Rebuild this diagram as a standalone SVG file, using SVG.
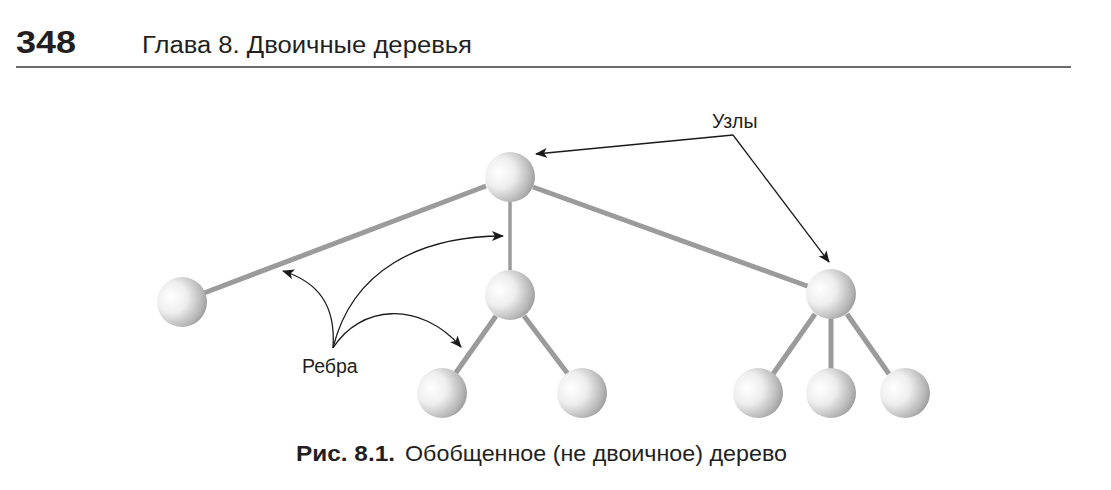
<svg xmlns="http://www.w3.org/2000/svg" width="1111" height="490" viewBox="0 0 1111 490">
<defs>
<radialGradient id="ball" cx="0.3" cy="0.42" r="0.78" fx="0.28" fy="0.4">
<stop offset="0" stop-color="#ffffff"/>
<stop offset="0.4" stop-color="#eeeeee"/>
<stop offset="0.8" stop-color="#b4b4b4"/>
<stop offset="1" stop-color="#8c8c8c"/>
</radialGradient>
<marker id="ah" viewBox="0 0 12 10" refX="11" refY="5" markerWidth="12" markerHeight="10" markerUnits="userSpaceOnUse" orient="auto">
<path d="M0,0 L12,5 L0,10 L3,5 Z" fill="#1a1a1a"/>
</marker>
</defs>
<style>
.hdr{font-family:"Liberation Sans",Arial,sans-serif;fill:#231f20}
.lbl{font-family:"Liberation Sans",Arial,sans-serif;font-size:19.5px;fill:#231f20}
.edge{stroke:#9b9b9b;stroke-width:5;stroke-linecap:butt;fill:none}
.thin{stroke-width:3.5}
.ptr{stroke:#1a1a1a;stroke-width:1.3;fill:none;marker-end:url(#ah)}
.node{fill:url(#ball)}
</style>
<rect width="1111" height="490" fill="#ffffff"/>
<g id="header">
<text class="hdr" x="16" y="53" font-size="31" font-weight="bold" textLength="60" lengthAdjust="spacingAndGlyphs">348</text>
<text class="hdr" x="142" y="53" font-size="23" textLength="330" lengthAdjust="spacingAndGlyphs">Глава 8. Двоичные деревья</text>
<line x1="16" y1="67" x2="1071" y2="67" stroke="#3a3a3a" stroke-width="1.6"/>
</g>
<g id="connectors">
<line class="edge" x1="486" y1="186" x2="204" y2="293"/>
<line class="edge thin" x1="510" y1="200" x2="510" y2="272"/>
<line class="edge" x1="533" y1="187" x2="810" y2="287"/>
<line class="edge" x1="496" y1="316" x2="455" y2="374"/>
<line class="edge" x1="524" y1="316" x2="568" y2="374"/>
<line class="edge" x1="815" y1="314" x2="773" y2="374"/>
<line class="edge" x1="831" y1="318" x2="831" y2="370"/>
<line class="edge" x1="847" y1="314" x2="889" y2="374"/>
</g>
<g id="node-root"><circle class="node" cx="510" cy="177" r="25"/></g>
<g id="node-left"><circle class="node" cx="182" cy="302" r="25"/></g>
<g id="node-mid"><circle class="node" cx="510" cy="295" r="25"/></g>
<g id="node-right"><circle class="node" cx="831" cy="294" r="25"/></g>
<g id="node-mid-l"><circle class="node" cx="442" cy="393" r="25"/></g>
<g id="node-mid-r"><circle class="node" cx="582" cy="393" r="25"/></g>
<g id="node-right-l"><circle class="node" cx="758" cy="393" r="25"/></g>
<g id="node-right-m"><circle class="node" cx="831" cy="393" r="25"/></g>
<g id="node-right-r"><circle class="node" cx="905" cy="393" r="25"/></g>
<g id="label-nodes">
<text class="lbl" x="712" y="128">Узлы</text>
<path class="ptr" d="M733,135 L536,154"/>
<path class="ptr" d="M733,135 L829,262"/>
</g>
<g id="label-edges">
<text class="lbl" x="302" y="373">Ребра</text>
<path class="ptr" d="M333,348 C336,305 318,282 283,271"/>
<path class="ptr" d="M333,348 C352,270 420,236 503,236"/>
<path class="ptr" d="M333,348 C360,305 420,300 461,347"/>
</g>
<g id="caption">
<text class="hdr" x="296" y="461" font-size="22" font-weight="bold" textLength="99" lengthAdjust="spacingAndGlyphs">Рис. 8.1.</text>
<text class="hdr" x="405" y="461" font-size="22.5" textLength="382" lengthAdjust="spacingAndGlyphs">Обобщенное (не двоичное) дерево</text>
</g>
</svg>
